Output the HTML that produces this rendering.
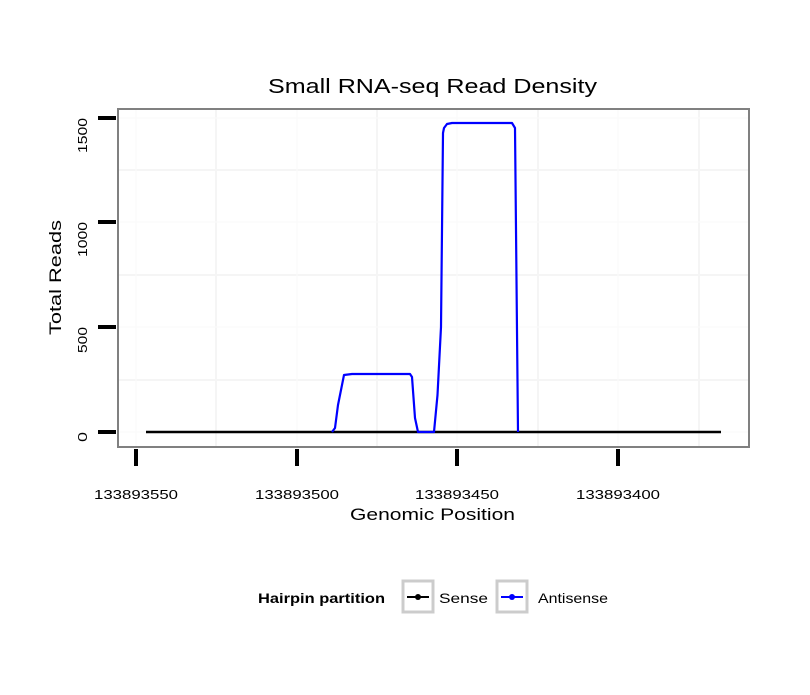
<!DOCTYPE html>
<html><head><style>body{margin:0;background:#fff}</style></head><body>
<svg width="810" height="690" xmlns="http://www.w3.org/2000/svg" font-family="Liberation Sans, sans-serif">
<rect width="810" height="690" fill="#fff"/>
<g stroke="#f5f5f5" stroke-width="2">
<line x1="216" y1="109" x2="216" y2="447"/><line x1="377" y1="109" x2="377" y2="447"/><line x1="538" y1="109" x2="538" y2="447"/><line x1="699" y1="109" x2="699" y2="447"/>
<line x1="118" y1="380" x2="749" y2="380"/><line x1="118" y1="275" x2="749" y2="275"/><line x1="118" y1="170" x2="749" y2="170"/>
</g>
<g stroke="#fafafa" stroke-width="1">
<line x1="136" y1="109" x2="136" y2="447"/><line x1="297" y1="109" x2="297" y2="447"/><line x1="457" y1="109" x2="457" y2="447"/><line x1="618" y1="109" x2="618" y2="447"/>
<line x1="118" y1="432" x2="749" y2="432"/><line x1="118" y1="327" x2="749" y2="327"/><line x1="118" y1="222" x2="749" y2="222"/><line x1="118" y1="118" x2="749" y2="118"/>
</g>
<line x1="146" y1="432" x2="721" y2="432" stroke="#000" stroke-width="2.5"/>
<polyline fill="none" stroke="#0000ff" stroke-width="2.2" stroke-linejoin="round" points="332,432 335,428 338,405 344,375 352,374 410,374 412,377 415,418 418,432 434,432 437.5,395 441,327 443,133 444,128 447,124 452,123 512,123 515,128 518,432"/>
<rect x="118" y="109" width="631" height="338" fill="none" stroke="#808080" stroke-width="2"/>
<g stroke="#000" stroke-width="4">
<line x1="98" y1="432" x2="116" y2="432"/><line x1="98" y1="327" x2="116" y2="327"/><line x1="98" y1="222" x2="116" y2="222"/><line x1="98" y1="118" x2="116" y2="118"/>
<line x1="136" y1="449" x2="136" y2="466"/><line x1="297" y1="449" x2="297" y2="466"/><line x1="457" y1="449" x2="457" y2="466"/><line x1="618" y1="449" x2="618" y2="466"/>
</g>
<g font-size="13" fill="#000" text-anchor="end" lengthAdjust="spacingAndGlyphs">
<text transform="translate(87,432) rotate(-90)" textLength="10" lengthAdjust="spacingAndGlyphs">0</text>
<text transform="translate(87,327) rotate(-90)" textLength="26" lengthAdjust="spacingAndGlyphs">500</text>
<text transform="translate(87,222) rotate(-90)" textLength="35" lengthAdjust="spacingAndGlyphs">1000</text>
<text transform="translate(87,118) rotate(-90)" textLength="35" lengthAdjust="spacingAndGlyphs">1500</text>
</g>
<g font-size="13" fill="#000">
<text x="94" y="499" textLength="84" lengthAdjust="spacingAndGlyphs">133893550</text>
<text x="255" y="499" textLength="84" lengthAdjust="spacingAndGlyphs">133893500</text>
<text x="415" y="499" textLength="84" lengthAdjust="spacingAndGlyphs">133893450</text>
<text x="576" y="499" textLength="84" lengthAdjust="spacingAndGlyphs">133893400</text>
<text x="268" y="93" font-size="20" textLength="329" lengthAdjust="spacingAndGlyphs">Small RNA-seq Read Density</text>
<text x="350" y="520" font-size="17" textLength="165" lengthAdjust="spacingAndGlyphs">Genomic Position</text>
<text transform="translate(61,335) rotate(-90)" font-size="17" textLength="115" lengthAdjust="spacingAndGlyphs">Total Reads</text>
<text x="258" y="603" font-size="14" font-weight="bold" textLength="127" lengthAdjust="spacingAndGlyphs">Hairpin partition</text>
<text x="439" y="603" font-size="14" textLength="49" lengthAdjust="spacingAndGlyphs">Sense</text>
<text x="538" y="603" font-size="14" textLength="70" lengthAdjust="spacingAndGlyphs">Antisense</text>
</g>
<rect x="403" y="581" width="30" height="31" fill="#fff" stroke="#ccc" stroke-width="3"/>
<line x1="407" y1="597" x2="429" y2="597" stroke="#000" stroke-width="2"/><circle cx="418" cy="597" r="3" fill="#000"/>
<rect x="497" y="581" width="30" height="31" fill="#fff" stroke="#ccc" stroke-width="3"/>
<line x1="501" y1="597" x2="523" y2="597" stroke="#00f" stroke-width="2"/><circle cx="512" cy="597" r="3" fill="#00f"/>
</svg>
</body></html>
